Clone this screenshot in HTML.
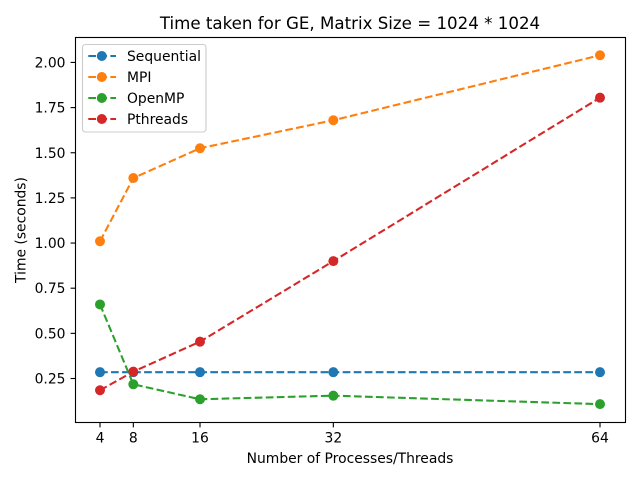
<!DOCTYPE html>
<html>
<head>
<meta charset="utf-8">
<title>Time taken for GE</title>
<style>
html,body{margin:0;padding:0;background:#fff;width:640px;height:480px;overflow:hidden}
svg{display:block}
text{font-family:"DejaVu Sans",sans-serif;fill:#000}
</style>
</head>
<body>
<svg id="chart" xmlns="http://www.w3.org/2000/svg" width="640" height="480" viewBox="0 0 640 480">
  <rect width="640" height="480" fill="#fff"/>
  <text x="350" y="29" text-anchor="middle" style="font-size:16.67px">Time taken for GE, Matrix Size = 1024 * 1024</text>
  <text x="350" y="463" text-anchor="middle" style="font-size:13.89px">Number of Processes/Threads</text>
  <text x="0" y="0" transform="translate(25.5,230) rotate(-90)" text-anchor="middle" style="font-size:13.89px">Time (seconds)</text>
  <g id="ticks"></g>
  <g id="series"></g>
  <rect x="75.5" y="37.5" width="550" height="385" fill="none" stroke="#000" stroke-width="1.11"/>
  <g id="legend"></g>
</svg>
<script>
const threads = [4, 8, 16, 32, 64];
const xTickLabels = ["4", "8", "16", "32", "64"];
const yTickValues = [0.25, 0.50, 0.75, 1.00, 1.25, 1.50, 1.75, 2.00];
const seriesNames = ["Sequential", "MPI", "OpenMP", "Pthreads"];
const seriesColors = ["#1f77b4", "#ff7f0e", "#2ca02c", "#d62728"];
const sequential = [0.285, 0.285, 0.285, 0.285, 0.285];
const mpi = [1.01, 1.36, 1.525, 1.68, 2.04];
const openmp = [0.66, 0.218, 0.135, 0.155, 0.108];
const pthreads = [0.185, 0.288, 0.454, 0.90, 1.805];
const allSeries = [sequential, mpi, openmp, pthreads];

const NS = "http://www.w3.org/2000/svg";
function xScale(v) { return 100 + (v - 4) * (500 / 60); }
function yScale(v) { return 378.5 - (v - 0.25) * 180.6; }
function make(tag, attrs, parent) {
  const el = document.createElementNS(NS, tag);
  for (const k in attrs) el.setAttribute(k, attrs[k]);
  parent.appendChild(el);
  return el;
}

const ticks = document.getElementById("ticks");
threads.forEach(function (t, i) {
  const x = xScale(t);
  const mark = make("line", { x1: x, x2: x, y1: 422.5, y2: 427.4, stroke: "#000", "stroke-width": 1.11 }, ticks);
  
  
  const label = make("text", { x: x, y: 442.5, "text-anchor": "middle" }, ticks);
  label.style.fontSize = "13.89px";
  label.textContent = xTickLabels[i];
  
  
});
yTickValues.forEach(function (v) {
  const y = yScale(v);
  const mark = make("line", { x1: 70.6, x2: 75.5, y1: y, y2: y, stroke: "#000", "stroke-width": 1.11 }, ticks);
  
  
  const label = make("text", { x: 65.5, y: y + 5, "text-anchor": "end" }, ticks);
  label.style.fontSize = "13.89px";
  label.textContent = v.toFixed(2);
  
  
});

const seriesGroup = document.getElementById("series");
allSeries.forEach(function (values, s) {
  const pts = values.map(function (v, i) { return xScale(threads[i]).toFixed(2) + "," + yScale(v).toFixed(2); }).join(" ");
  const line = make("polyline", { points: pts, fill: "none", stroke: seriesColors[s], "stroke-width": 2.08, "stroke-dasharray": "7.7 3.33" }, seriesGroup);
  
  
  values.forEach(function (v, i) {
    const dot = make("circle", { cx: xScale(threads[i]), cy: yScale(v), r: 5, fill: seriesColors[s] }, seriesGroup);
    
    
  });
});

const legend = document.getElementById("legend");
const box = make("rect", { x: 82.5, y: 44.5, width: 123.5, height: 87.5, rx: 3, ry: 3, fill: "#fff", "fill-opacity": 0.8, stroke: "#ccc", "stroke-width": 1.11 }, legend);


seriesNames.forEach(function (name, s) {
  const y = 56 + s * 21;
  const handle = make("line", { x1: 88.3, x2: 116, y1: y, y2: y, stroke: seriesColors[s], "stroke-width": 2.08, "stroke-dasharray": "7.7 3.33" }, legend);
  
  
  const dot = make("circle", { cx: 101.8, cy: y, r: 5, fill: seriesColors[s] }, legend);
  
  
  const label = make("text", { x: 127, y: y + 5 }, legend);
  label.style.fontSize = "13.89px";
  label.textContent = name;
  
  
});
</script>
</body>
</html>
